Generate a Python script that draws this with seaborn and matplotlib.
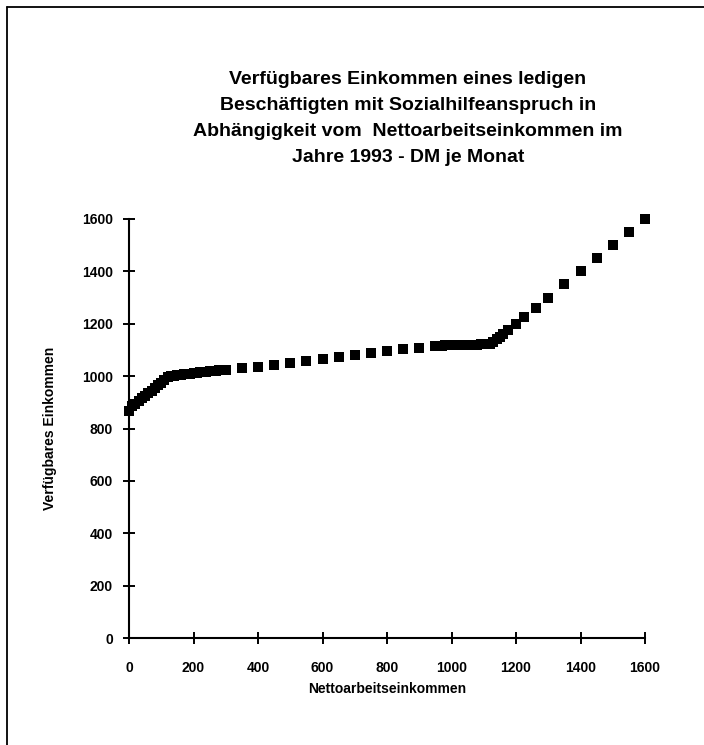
import matplotlib
matplotlib.use("Agg")
import matplotlib.pyplot as plt
import seaborn as sns
import pandas as pd
from matplotlib.lines import Line2D

# Data (DM per month, 1993)
netto = [0, 10, 20, 30, 40, 50, 60, 70, 80, 90, 100, 110, 120, 130,
         140, 150, 160, 170, 180, 190, 200, 210, 220, 230, 240, 250, 260, 270, 280, 290, 300,
         350, 400, 450, 500, 550, 600, 650, 700, 750, 800, 850, 900,
         950, 960, 970, 980, 990, 1000, 1010, 1020, 1030, 1040, 1050, 1060, 1070, 1080,
         1090, 1100, 1110, 1120,
         1130, 1140, 1150, 1160, 1175, 1200, 1225, 1262, 1300, 1350, 1400, 1450, 1500,
         1550, 1600]
verfuegbar = [868, 885, 895, 905, 915, 925, 935, 945, 955, 965, 975, 985, 995, 1000,
              1002, 1004, 1005, 1007, 1008, 1010, 1011, 1013, 1014, 1015, 1017, 1018, 1019,
              1021, 1022, 1023, 1025,
              1031, 1036, 1042, 1052, 1058, 1065, 1072, 1080, 1088, 1095, 1102, 1107,
              1115, 1116, 1116, 1117, 1117, 1118, 1118, 1119, 1119, 1119, 1120, 1120, 1120, 1120,
              1121, 1121, 1121, 1122,
              1130, 1140, 1150, 1160, 1175, 1200, 1225, 1262, 1300, 1350, 1400, 1450, 1500,
              1550, 1600]
x_ticks = [0, 200, 400, 600, 800, 1000, 1200, 1400, 1600]
y_ticks = [0, 200, 400, 600, 800, 1000, 1200, 1400, 1600]

title = ("Verfügbares Einkommen eines ledigen\n"
         "Beschäftigten mit Sozialhilfeanspruch in\n"
         "Abhängigkeit vom  Nettoarbeitseinkommen im\n"
         "Jahre 1993 - DM je Monat")

df = pd.DataFrame({"Nettoarbeitseinkommen": netto, "Verfügbares Einkommen": verfuegbar})

sns.set_style("white")
plt.rcParams["font.family"] = ["Liberation Sans", "DejaVu Sans"]
plt.rcParams["text.color"] = "black"
plt.rcParams["axes.labelcolor"] = "black"

fig = plt.figure(figsize=(7.04, 7.45), dpi=100)
ax = fig.add_axes([129 / 704, 1 - 638 / 745, (645 - 129) / 704, (638 - 219) / 745])

sns.scatterplot(data=df, x="Nettoarbeitseinkommen", y="Verfügbares Einkommen",
                marker="s", s=46, color="black", edgecolor="black", linewidth=0,
                ax=ax, clip_on=False, zorder=3)

ax.set_xlim(0, 1600)
ax.set_ylim(0, 1600)
ax.set_xticks(x_ticks)
ax.set_yticks(y_ticks)
ax.set_xticklabels([str(t) for t in x_ticks], fontsize=10, fontweight="bold")
ax.set_yticklabels([str(t) for t in y_ticks], fontsize=10, fontweight="bold")
ax.tick_params(axis="both", which="major", bottom=True, left=True, top=False, right=False,
               direction="inout", length=9, width=1.4, color="black", labelcolor="black")
ax.tick_params(axis="x", pad=12)
ax.tick_params(axis="y", pad=7)
for side in ["top", "right"]:
    ax.spines[side].set_visible(False)
for side in ["left", "bottom"]:
    ax.spines[side].set_color("black")
    ax.spines[side].set_linewidth(1.5)

ax.set_xlabel("Nettoarbeitseinkommen", fontsize=10, fontweight="bold", labelpad=5,
              color="black")
ax.set_ylabel("Verfügbares Einkommen", fontsize=10, fontweight="bold", labelpad=18,
              color="black")

fig.text(408 / 704, 1 - 71 / 745, title, ha="center", va="top", fontsize=14,
         fontweight="bold", linespacing=1.68, color="black")

# page frame (left and top edges)
fig.add_artist(Line2D([7 / 704, 7 / 704], [0, 1 - 7 / 745], transform=fig.transFigure,
                      color="black", linewidth=1.3))
fig.add_artist(Line2D([7 / 704, 1], [1 - 7 / 745, 1 - 7 / 745], transform=fig.transFigure,
                      color="black", linewidth=1.3))

fig.savefig("out.png", dpi=100, facecolor="white")
